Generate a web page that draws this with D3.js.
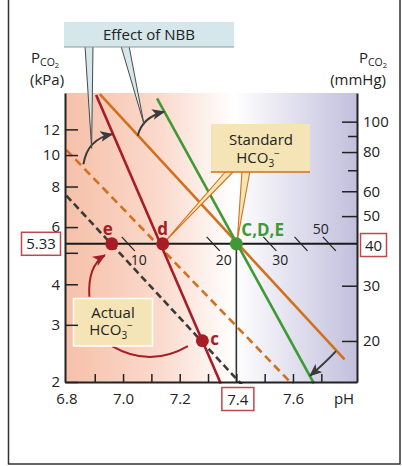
<!DOCTYPE html>
<html><head><meta charset="utf-8">
<script src="https://cdn.jsdelivr.net/npm/d3@7"></script>
<style>
html,body{margin:0;padding:0;background:#fff;}
svg{display:block;font-family:"Open Sans","Noto Sans",sans-serif;}
</style></head><body>
<svg id="chart" width="402" height="466"></svg>
<script>
// ---- axis values ----
const phLabels = [6.8, 7.0, 7.2, 7.4, 7.6];
const phTicks = [6.9, 7.0, 7.1, 7.2, 7.3, 7.4, 7.5, 7.6, 7.7];
const kpaTicks = [2, 3, 4, 5, 6, 8, 10, 12];
const kpaTickLabels = ["2", "3", "4", "", "6", "8", "10", "12"];
const mmHgTicks = [20, 30, 50, 60, 80, 100];
const mmHgMinorTicks = [70, 90];

// ---- buffer lines, end points as [pH, PCO2 in kPa] ----
const nbbLowLine = [[6.905, 15.3], [7.345, 1.98]];
const normalLine = [[6.918, 15.4], [7.782, 2.35]];
const nbbHighLine = [[7.120, 14.96], [7.674, 1.98]];
const standardHco3Line = [[6.80, 10.36], [7.60, 1.96]];
const actualHco3Line = [[6.80, 7.5], [7.42, 1.96]];

// ---- acid-base states ----
const stateNames = ["e", "d", "C,D,E", "c"];
const statePH = [6.96, 7.14, 7.40, 7.28];
const statePCO2 = [5.33, 5.33, 5.33, 2.68];

// ---- HCO3- scale along the normal PCO2 line ----
const hco3Values = [10, 20, 30, 40, 50];
const hco3Labels = ["10", "20", "30", "", "50"];
const hco3PH = [7.02, 7.32, 7.52, 7.63, 7.73];

const normalPCO2 = 5.33, normalPH = 7.4, normalMmHg = 40;

// ---- scales ----
const L = 65, R = 357, T = 93, B = 382;
const x = d3.scaleLinear().domain([6.795, 7.826]).range([L, R]);
const y = d3.scaleLog().domain([2, 15.53]).range([B, T]);
const yR = d3.scaleLog().domain([14.8, 123.4]).range([B, T]);
const pt = d => [x(d[0]), y(d[1])];

const svg = d3.select("#chart");
const RED = "#a61d25", ORANGE = "#d2711d", GREEN = "#3f9a36", DARK = "#3a3a3a", BOXRED = "#c0474b";
const BEIGE = "#f5e5b6", INK = "#222";
const FS = 15;

const defs = svg.append("defs");
const grad = defs.append("linearGradient").attr("id", "bg")
  .attr("gradientUnits", "userSpaceOnUse").attr("x1", L).attr("x2", R).attr("y1", 0).attr("y2", 0);
[[0, "#f6c0a9"], [0.33, "#fbdacd"], [0.58, "#ffffff"], [1, "#c2bfdd"]]
  .forEach(([o, c]) => grad.append("stop").attr("offset", o).attr("stop-color", c));
function marker(id, color) {
  defs.append("marker").attr("id", id).attr("viewBox", "0 0 12 10")
    .attr("refX", 11).attr("refY", 5).attr("markerWidth", 13).attr("markerHeight", 11)
    .attr("markerUnits", "userSpaceOnUse").attr("orient", "auto")
    .append("path").attr("d", "M0,0 L12,5 L0,10 L3,5 Z").attr("fill", color);
}
marker("ahDark", DARK);
marker("ahRed", RED);

// outer frame
svg.append("rect").attr("x", 8.5).attr("y", -2).attr("width", 391.5).attr("height", 466)
  .attr("fill", "none").attr("stroke", "#333").attr("stroke-width", 1.5);

// plot background
svg.append("rect").attr("x", L).attr("y", T).attr("width", R - L).attr("height", B - T).attr("fill", "url(#bg)");

const plot = svg.append("g");
plot.append("clipPath").attr("id", "clip").append("rect")
  .attr("x", L).attr("y", T).attr("width", R - L).attr("height", B - T + 2);

// reference lines: normal PCO2 and normal pH
const y533 = y(normalPCO2);
plot.append("line").attr("x1", L).attr("x2", R).attr("y1", y533).attr("y2", y533)
  .attr("stroke", "#1a1a1a").attr("stroke-width", 2);
plot.append("line").attr("x1", x(normalPH)).attr("x2", x(normalPH)).attr("y1", y533).attr("y2", B)
  .attr("stroke", "#333").attr("stroke-width", 1.6);

// HCO3- ticks on the normal PCO2 line
hco3Values.forEach((v, i) => {
  const cx = x(hco3PH[i]);
  plot.append("line").attr("x1", cx - 7).attr("y1", y533 - 7).attr("x2", cx + 6).attr("y2", y533 + 7)
    .attr("stroke", INK).attr("stroke-width", 1.2);
  if (hco3Labels[i]) {
    const above = i === hco3Values.length - 1;
    plot.append("text").attr("x", cx + (above ? -9 : 10)).attr("y", y533 + (above ? -10 : 21))
      .attr("text-anchor", "middle").attr("font-size", 14).attr("fill", INK).text(hco3Labels[i]);
  }
});

// buffer lines
const lineGen = d3.line().x(d => x(d[0])).y(d => y(d[1]));
const lines = plot.append("g").attr("clip-path", "url(#clip)").attr("fill", "none").attr("stroke-width", 2.6);
lines.append("path").attr("d", lineGen(actualHco3Line)).attr("stroke", DARK).attr("stroke-dasharray", "7,4");
lines.append("path").attr("d", lineGen(standardHco3Line)).attr("stroke", ORANGE).attr("stroke-dasharray", "8,5");
lines.append("path").attr("d", lineGen(normalLine)).attr("stroke", ORANGE);
lines.append("path").attr("d", lineGen(nbbHighLine)).attr("stroke", GREEN);
lines.append("path").attr("d", lineGen(nbbLowLine)).attr("stroke", RED);

// curved arrows showing the effect of non-bicarbonate buffers
const curve = (p0, c, p1) => {
  const a = pt(p0), b = pt(c), e = pt(p1);
  return `M${a[0]},${a[1]} Q${b[0]},${b[1]} ${e[0]},${e[1]}`;
};
const nbbArrows = [
  [[6.860, 9.37], [6.874, 11.2], [6.962, 11.6]],
  [[7.052, 11.47], [7.068, 13.1], [7.145, 13.6]],
  [[7.752, 2.49], [7.715, 2.30], [7.660, 2.09]]
];
nbbArrows.forEach(a => plot.append("path").attr("d", curve(...a)).attr("fill", "none")
  .attr("stroke", DARK).attr("stroke-width", 2).attr("marker-end", "url(#ahDark)"));

// red arrow to e and bracket towards c
plot.append("path").attr("d", curve([6.881, 3.66], [6.874, 4.55], [6.936, 4.92]))
  .attr("fill", "none").attr("stroke", RED).attr("stroke-width", 2).attr("marker-end", "url(#ahRed)");
plot.append("path").attr("d", curve([6.961, 2.58], [7.095, 2.21], [7.229, 2.58]))
  .attr("fill", "none").attr("stroke", RED).attr("stroke-width", 2);

function hco3Text(g, cx, cy) {
  const t = g.append("text").attr("x", cx).attr("y", cy).attr("text-anchor", "middle")
    .attr("font-size", FS).attr("fill", INK);
  t.append("tspan").text("HCO");
  t.append("tspan").attr("font-size", 10).attr("dy", 4).text("3");
  t.append("tspan").attr("font-size", 10).attr("dy", -10).text("\u2212");
}

// "Actual HCO3-" box
const act = svg.append("g");
act.append("rect").attr("x", 73.5).attr("y", 298.5).attr("width", 79).attr("height", 47.5)
  .attr("fill", BEIGE).attr("stroke", "#fff").attr("stroke-width", 1.5);
act.append("text").attr("x", 113).attr("y", 318).attr("text-anchor", "middle").attr("font-size", FS)
  .attr("fill", INK).text("Actual");
hco3Text(act, 111, 335);

// "Standard HCO3-" callout
const std = svg.append("g");
const dPt = [x(statePH[1]), y(statePCO2[1])], cPt = [x(statePH[2]), y(statePCO2[2])];
[[226, 234, dPt[0] + 2, dPt[1] - 2], [242, 250, cPt[0] + 1, cPt[1] - 4]].forEach(([a, b, tx, ty]) => {
  std.append("path").attr("d", `M${a},171 L${tx},${ty} L${b},171`)
    .attr("fill", BEIGE).attr("stroke", ORANGE).attr("stroke-width", 1.1);
});
std.append("rect").attr("x", 211).attr("y", 124).attr("width", 99).attr("height", 48).attr("fill", BEIGE);
std.append("line").attr("x1", 211).attr("x2", 310).attr("y1", 172).attr("y2", 172)
  .attr("stroke", ORANGE).attr("stroke-width", 1.5);
std.append("text").attr("x", 261).attr("y", 145).attr("text-anchor", "middle").attr("font-size", FS)
  .attr("fill", INK).text("Standard");
hco3Text(std, 258, 163);

// "Effect of NBB" callout
const nbb = svg.append("g");
[[85, 93, [6.889, 10.49]], [121, 129, [7.074, 12.44]]].forEach(([a, b, tip]) => {
  const t = pt(tip);
  nbb.append("path").attr("d", `M${a},46 L${t[0]},${t[1]} L${b},46`)
    .attr("fill", "#d5e7ea").attr("stroke", "#4a4a4a").attr("stroke-width", 1);
});
nbb.append("rect").attr("x", 64).attr("y", 22).attr("width", 170).attr("height", 25).attr("fill", "#d5e7ea");
nbb.append("line").attr("x1", 64).attr("x2", 234).attr("y1", 47).attr("y2", 47).attr("stroke", "#8b9a9c").attr("stroke-width", 1);
nbb.append("text").attr("x", 149).attr("y", 39.5).attr("text-anchor", "middle").attr("font-size", FS)
  .attr("fill", INK).text("Effect of NBB");

// state points and labels
const stateColor = i => (i === 2 ? GREEN : RED);
stateNames.forEach((n, i) => {
  const px = x(statePH[i]), py = y(statePCO2[i]);
  svg.append("circle").attr("cx", px).attr("cy", py).attr("r", 6.5).attr("fill", stateColor(i));
  const t = svg.append("text").attr("font-size", 17).attr("font-weight", "bold").attr("fill", stateColor(i)).text(n);
  if (i === 0) t.attr("x", px - 4).attr("y", py - 9).attr("text-anchor", "middle");
  else if (i === 1) t.attr("x", px).attr("y", py - 9).attr("text-anchor", "middle");
  else if (i === 2) t.attr("x", px + 5).attr("y", py - 8);
  else t.attr("x", px + 8).attr("y", py + 4);
});

// axes
const axisStyle = g => {
  g.selectAll("text").attr("font-family", "'Open Sans','Noto Sans',sans-serif").attr("fill", INK).attr("font-size", FS);
  g.selectAll(".tick line").attr("stroke", INK).attr("stroke-width", 1.5);
  g.select(".domain").attr("stroke", INK).attr("stroke-width", 2);
};
svg.append("g").attr("transform", `translate(${L},0)`)
  .call(d3.axisLeft(y).tickValues(kpaTicks).tickSize(-13).tickSizeOuter(0).tickPadding(5)
    .tickFormat((d, i) => kpaTickLabels[i]))
  .call(axisStyle);

const rAxis = svg.append("g").attr("transform", `translate(${R},0)`);
rAxis.call(d3.axisRight(yR).tickValues(mmHgTicks).tickSize(-15).tickSizeOuter(0).tickPadding(6).tickFormat(d3.format("d")))
  .call(axisStyle);
rAxis.append("g").call(d3.axisRight(yR).tickValues(mmHgMinorTicks).tickSize(-9).tickSizeOuter(0).tickFormat(""))
  .call(axisStyle).call(g => g.select(".domain").remove());

svg.append("g").attr("transform", `translate(0,${B})`)
  .call(d3.axisBottom(x).tickValues(phTicks).tickSize(-8).tickSizeOuter(0).tickFormat(""))
  .call(axisStyle);
svg.append("g").attr("transform", `translate(0,${B})`)
  .call(d3.axisBottom(x).tickValues(phLabels).tickSize(0).tickPadding(11).tickFormat(d3.format(".1f")))
  .call(axisStyle).call(g => g.select(".domain").remove());

// axis titles
svg.append("text").attr("x", 344).attr("y", 404).attr("text-anchor", "middle").attr("font-size", FS).attr("fill", INK).text("pH");
function pco2(xp, anchor) {
  const t = svg.append("text").attr("x", xp).attr("y", 63).attr("text-anchor", anchor).attr("font-size", FS).attr("fill", INK);
  t.append("tspan").text("P");
  t.append("tspan").attr("font-size", 10.5).attr("dy", 3).text("CO");
  t.append("tspan").attr("font-size", 7.5).attr("dy", 1.5).text("2");
}
pco2(31, "start");
pco2(387, "end");
svg.append("text").attr("x", 30).attr("y", 84.5).attr("font-size", FS).attr("fill", INK).text("(kPa)");
svg.append("text").attr("x", 386).attr("y", 84.5).attr("text-anchor", "end").attr("font-size", FS).attr("fill", INK).text("(mmHg)");

// boxed normal values
function boxed(cx, cy, w, txt) {
  svg.append("rect").attr("x", cx - w / 2).attr("y", cy - 11.5).attr("width", w).attr("height", 23)
    .attr("fill", "#fff").attr("stroke", BOXRED).attr("stroke-width", 1.5);
  svg.append("text").attr("x", cx).attr("y", cy + 5.5).attr("text-anchor", "middle").attr("font-size", FS)
    .attr("fill", INK).text(txt);
}
boxed(41, y533, 39, d3.format(".2f")(normalPCO2));
boxed(373.5, yR(normalMmHg) - 1.5, 26, String(normalMmHg));
boxed(x(normalPH) + 1.5, 399, 32, d3.format(".1f")(normalPH));
</script>
</body></html>
